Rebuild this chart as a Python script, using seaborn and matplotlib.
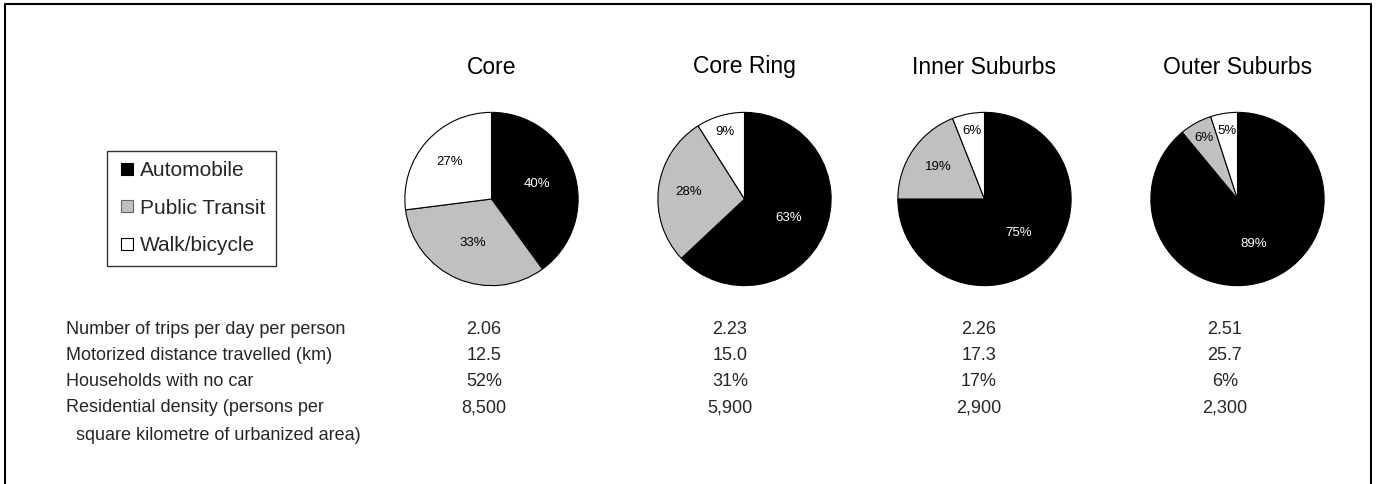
import matplotlib
matplotlib.use("Agg")
import matplotlib.pyplot as plt
import numpy as np
import seaborn as sns
from matplotlib.lines import Line2D

sns.set_theme(style="white")
plt.rcParams["font.family"] = ["Liberation Sans", "DejaVu Sans"]

# ---- data -------------------------------------------------------------
regions = ["Core", "Core Ring", "Inner Suburbs", "Outer Suburbs"]
modes = ["Automobile", "Public Transit", "Walk/bicycle"]
automobile = [40, 63, 75, 89]
public_transit = [33, 28, 19, 6]
walk_bicycle = [27, 9, 6, 5]

row_labels = [
    "Number of trips per day per person",
    "Motorized distance travelled (km)",
    "Households with no car",
    "Residential density (persons per",
]
row_label_continuation = "square kilometre of urbanized area)"
trips_per_day = [2.06, 2.23, 2.26, 2.51]
distance_km = [12.5, 15.0, 17.3, 25.7]
no_car_pct = [52, 31, 17, 6]
density = [8500, 5900, 2900, 2300]

# ---- layout (pixels on a 1376 x 484 canvas) ----------------------------
W, H = 1376, 484
pie_cx = [491.5, 744.5, 984.5, 1237.5]
pie_cy = 199
pie_r = 87.5
title_y = 67
col_x = [484, 730, 979, 1225]
row_y = [329, 356, 382, 408]
cont_y = 435

mode_colors = ["#000000", "#C0C0C0", "#FFFFFF"]
label_colors = ["white", "black", "black"]

fig = plt.figure(figsize=(W / 100, H / 100), dpi=100)
fig.patch.set_facecolor("white")


def fx(px):
    return px / W


def fy(py):
    return 1 - py / H


def label_radius(share):
    # small slices get their label near the rim, large ones nearer the centre
    if share < 10:
        return 0.8
    if share < 30:
        return 0.65
    return 0.55


shares = np.array([automobile, public_transit, walk_bicycle]).T

for i, region in enumerate(regions):
    ax = fig.add_axes([fx(pie_cx[i] - pie_r), fy(pie_cy + pie_r),
                       2 * pie_r / W, 2 * pie_r / H])
    vals = shares[i]
    wedges, _ = ax.pie(vals, colors=mode_colors, startangle=90,
                       counterclock=False, radius=1,
                       wedgeprops=dict(edgecolor="black", linewidth=0.8))
    for w, v, tc in zip(wedges, vals, label_colors):
        mid = np.deg2rad((w.theta1 + w.theta2) / 2)
        d = label_radius(v)
        ax.text(d * np.cos(mid), d * np.sin(mid), f"{v}%", color=tc,
                ha="center", va="center", fontsize=9.5)
    ax.set_xlim(-1.01, 1.01)
    ax.set_ylim(-1.01, 1.01)
    ax.set_aspect("equal")
    ax.axis("off")
    fig.text(fx(pie_cx[i]), fy(title_y), region, ha="center", va="center",
             fontsize=16.5, color="black")

# ---- legend -----------------------------------------------------------
handles = [
    Line2D([], [], marker="s", linestyle="none", markersize=9,
           markerfacecolor=c, markeredgecolor=ec, markeredgewidth=0.8)
    for c, ec in zip(mode_colors, ["black", "#666666", "black"])
]
leg = fig.legend(handles, modes, loc="upper left",
                 bbox_to_anchor=(fx(107), fy(151)),
                 bbox_transform=fig.transFigure, frameon=True,
                 fancybox=False, edgecolor="black", fontsize=15,
                 borderpad=0.5, labelspacing=0.88, handlelength=0.9,
                 handletextpad=0.2, borderaxespad=0)
leg.get_frame().set_linewidth(1.0)

# ---- statistics table -------------------------------------------------
table_rows = [
    [f"{v:.2f}" for v in trips_per_day],
    [f"{v:.1f}" for v in distance_km],
    [f"{v}%" for v in no_car_pct],
    [f"{v:,}" for v in density],
]
for label, y, cells in zip(row_labels, row_y, table_rows):
    fig.text(fx(66), fy(y), label, ha="left", va="center", fontsize=13)
    for x, cell in zip(col_x, cells):
        fig.text(fx(x), fy(y), cell, ha="center", va="center", fontsize=13)
fig.text(fx(76), fy(cont_y), row_label_continuation, ha="left",
         va="center", fontsize=13)

# ---- outer frame (open at the bottom) ---------------------------------
fig.add_artist(Line2D([fx(5), fx(5), fx(1371), fx(1371)],
                      [-0.05, fy(4), fy(4), -0.05],
                      transform=fig.transFigure, color="black", lw=1.5))

fig.savefig("out.png", dpi=100)
